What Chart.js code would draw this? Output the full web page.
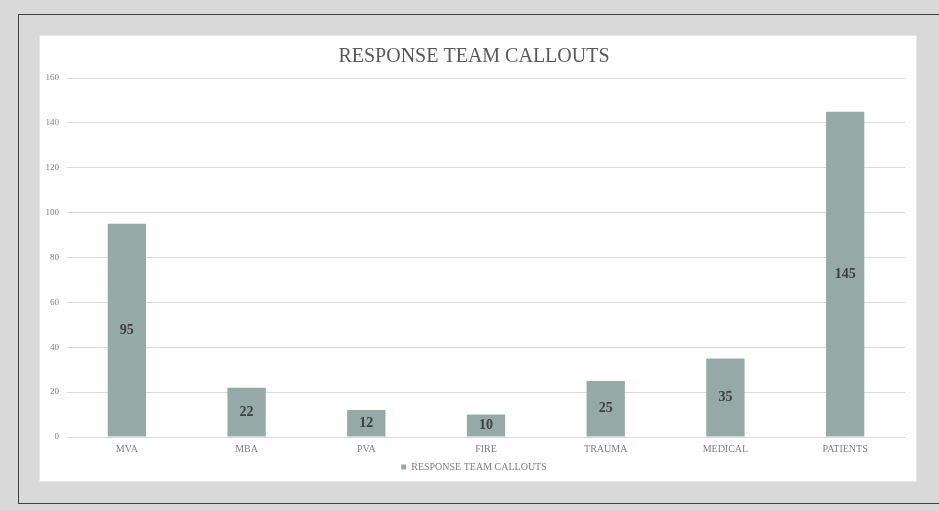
<!DOCTYPE html>
<html>
<head>
<meta charset="utf-8">
<script src="https://cdn.jsdelivr.net/npm/chart.js@4.4.0/dist/chart.umd.min.js"></script>
<style>
  html, body { margin: 0; padding: 0; background: #d9d9d9; width: 939px; height: 511px; overflow: hidden; }
  #frame { position: absolute; left: 18px; top: 14px; width: 940px; height: 488px; border: 1px solid #404040; border-right: none; }
  #panel { position: absolute; left: 39px; top: 35px; width: 878px; height: 447px; background: #fff; box-shadow: inset 1px 1px 0 #e6e6e6, inset -1px -1px 0 #e6e6e6; }
  #panel canvas { position: absolute; left: 0; top: 0; }
</style>
</head>
<body>
<div id="frame"></div>
<div id="panel"><canvas id="chart" width="878" height="447"></canvas></div>
<script>
// datos de la gráfica
const categories = ['MVA', 'MBA', 'PVA', 'FIRE', 'TRAUMA', 'MEDICAL', 'PATIENTS'];
const callouts = [95, 22, 12, 10, 25, 35, 145];
const yTicks = [0, 20, 40, 60, 80, 100, 120, 140, 160];

const serif = "'Liberation Serif', 'DejaVu Serif', serif";

// etiquetas dentro de las barras
const barLabels = {
    id: 'barLabels',
    afterDatasetsDraw(chart) {
        const ctx = chart.ctx;
        const meta = chart.getDatasetMeta(0);
        ctx.save();
        ctx.font = 'bold 14px ' + serif;
        ctx.fillStyle = '#404040';
        ctx.textAlign = 'center';
        ctx.textBaseline = 'middle';
        meta.data.forEach((bar, i) => {
            const mid = (bar.y + bar.base) / 2;
            ctx.fillText(chart.data.datasets[0].data[i], bar.x, mid);
        });
        ctx.restore();
    }
};

new Chart(document.getElementById('chart'), {
    type: 'bar',
    data: {
        labels: categories,
        datasets: [{
            label: 'RESPONSE TEAM CALLOUTS',
            data: callouts,
            backgroundColor: '#95a9a6',
            categoryPercentage: 1,
            barPercentage: 0.32
        }]
    },
    options: {
        responsive: false,
        animation: false,
        layout: { padding: { left: 4, right: 12, top: 6, bottom: 0 } },
        plugins: {
            title: {
                display: true,
                text: 'RESPONSE TEAM CALLOUTS',
                color: '#595959',
                font: { family: serif, size: 20, weight: 'normal' },
                padding: { top: 4, bottom: 9 }
            },
            legend: {
                position: 'bottom',
                labels: {
                    color: '#808080',
                    font: { family: serif, size: 10 },
                    boxWidth: 5,
                    boxHeight: 5,
                    padding: 1
                }
            },
            tooltip: { enabled: false }
        },
        scales: {
            x: {
                grid: { display: false, drawTicks: false },
                border: { color: '#d9d9d9' },
                ticks: { color: '#808080', font: { family: serif, size: 10 }, padding: 6 }
            },
            y: {
                min: 0,
                max: 160,
                afterBuildTicks: s => { s.ticks = yTicks.map(v => ({ value: v })); },
                grid: { color: '#d9d9d9', drawTicks: false },
                border: { display: false },
                ticks: { color: '#808080', font: { family: serif, size: 9 }, padding: 8 },
                afterFit: s => { s.width = 24; }
            }
        }
    },
    plugins: [barLabels]
});
</script>
</body>
</html>
